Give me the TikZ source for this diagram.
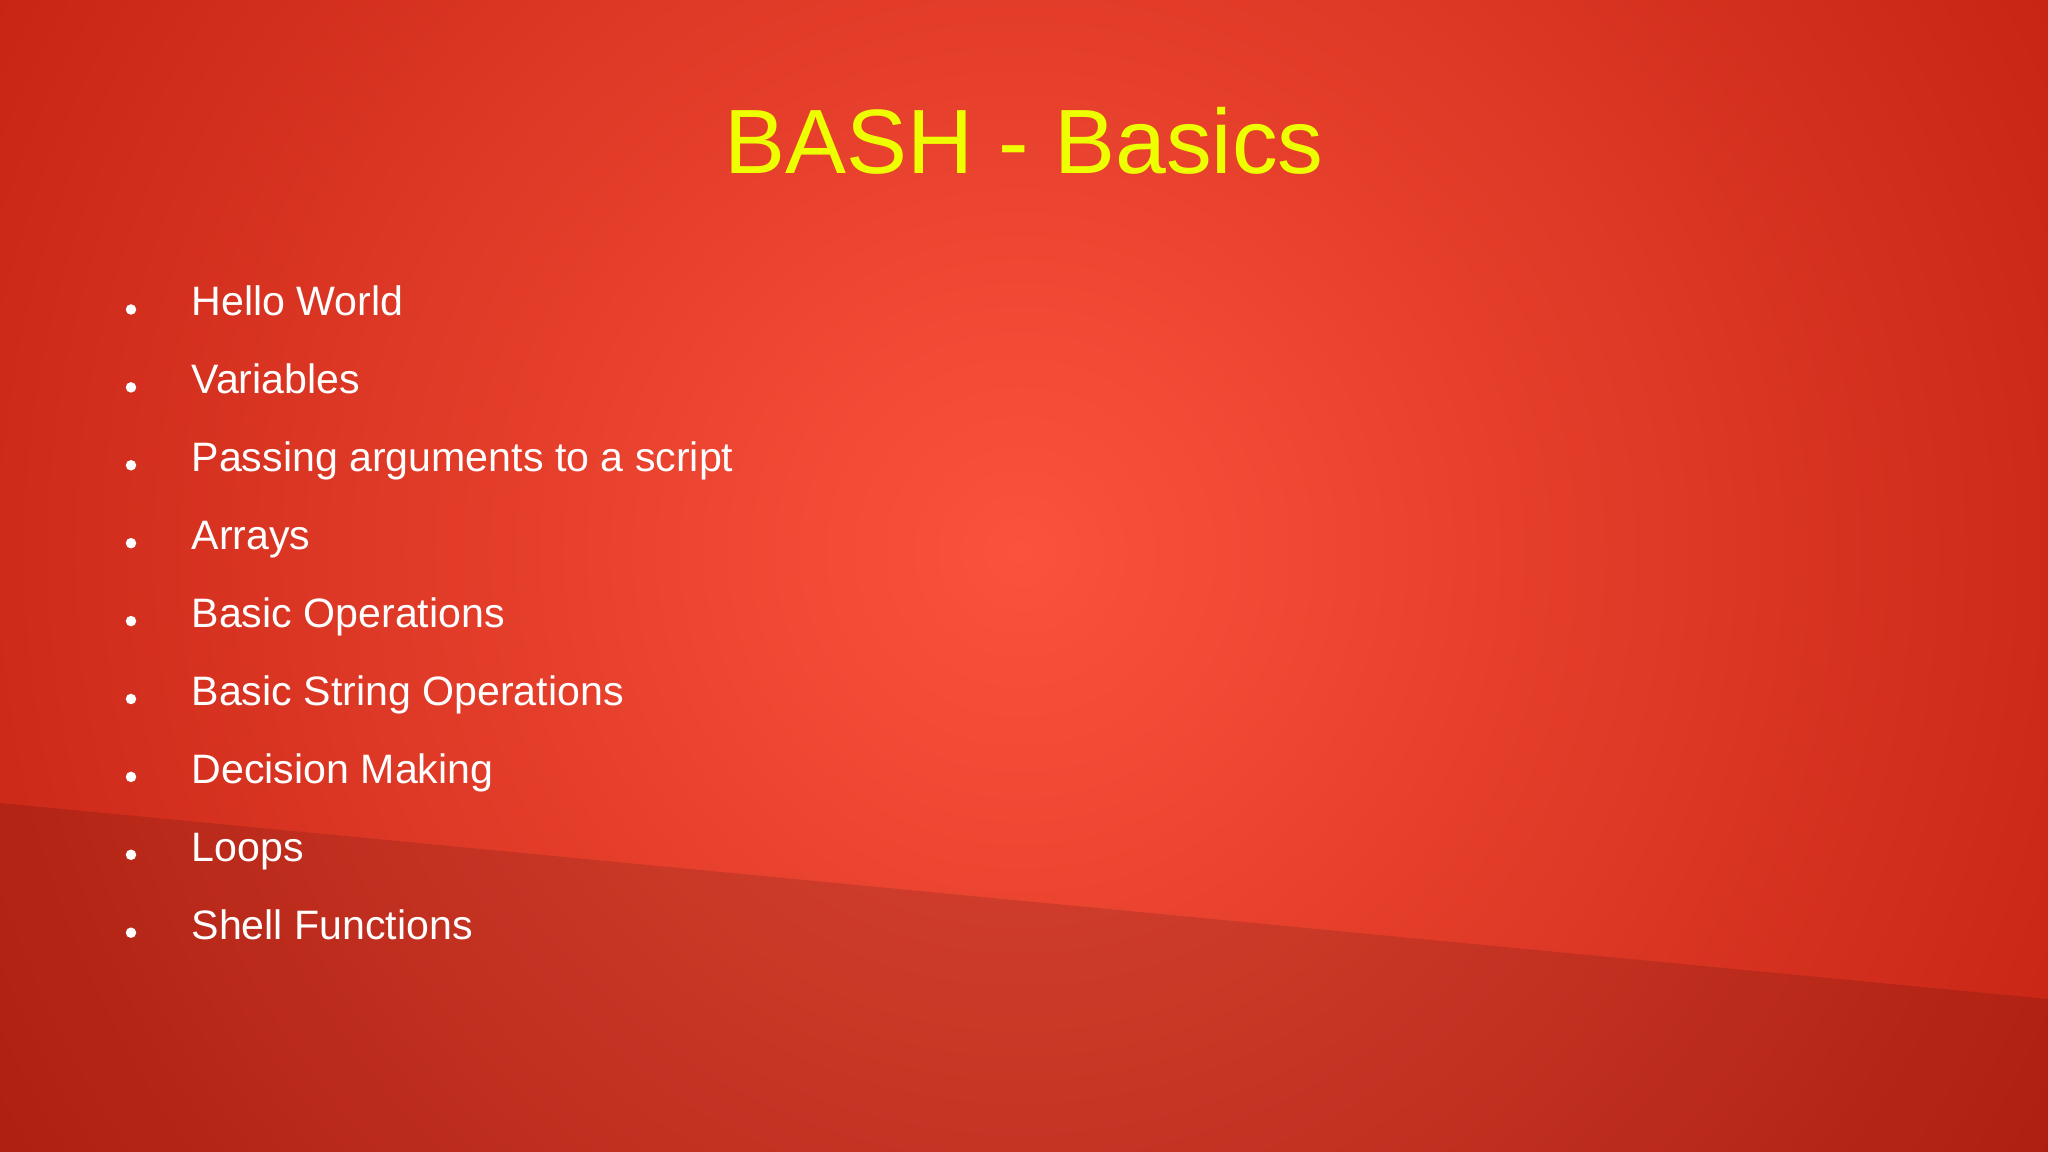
\documentclass[tikz,border=0pt]{standalone}
\usepackage{fontspec}
\setmainfont{Liberation Sans}
\definecolor{titley}{RGB}{238,255,0}
\definecolor{bgin}{RGB}{250,82,60}
\definecolor{bgout}{RGB}{186,24,10}
\begin{document}
\begin{tikzpicture}[
  item/.style={anchor=base west,text=white,font=\fontsize{11.7}{14}\selectfont,inner sep=0pt},
  dot/.style={circle,fill=white,inner sep=0pt,minimum size=0.105cm}]
\useasboundingbox (0,0) rectangle (20.48,11.52);
\begin{scope}
\clip (0,0) rectangle (20.48,11.52);
\shade[inner color=bgin,outer color=bgout] (10.2,6.0) circle (15);
\fill[black,opacity=0.12] (0,3.49) -- (20.48,1.53) -- (20.48,0) -- (0,0) -- cycle;
\end{scope}
\node[text=titley,font=\fontsize{26}{31}\selectfont] (title) at (10.24,10.11) {BASH - Basics};
\foreach \t [count=\i] in {Hello World,Variables,Passing arguments to a script,Arrays,Basic Operations,Basic String Operations,Decision Making,Loops,Shell Functions}{
  \pgfmathsetmacro{\yy}{11.52-(3.16+(\i-1)*0.779)}
  \node[dot] (b\i) at (1.31,\yy+0.065) {};
  \node[item] (t\i) at (1.91,\yy) {\t};
}
\end{tikzpicture}
\end{document}
